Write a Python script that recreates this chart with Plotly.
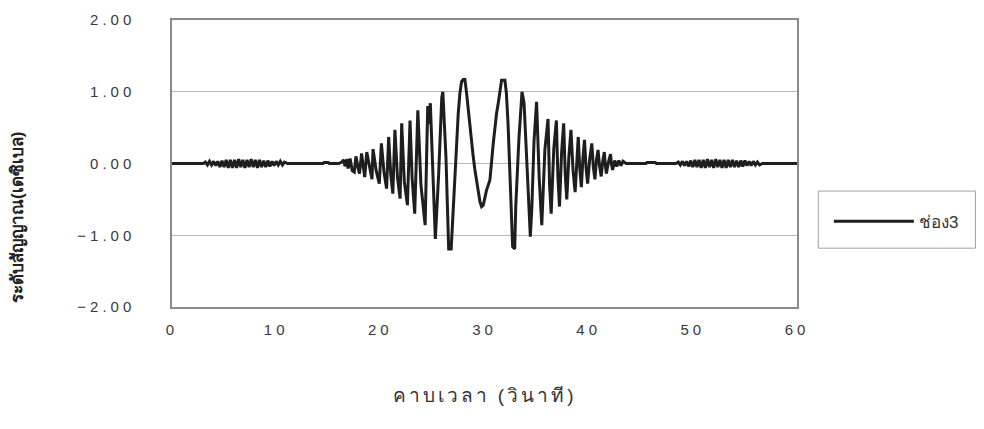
import plotly.graph_objects as go

# ---- data ----
time_s = [
    0.0, 3.0,
    3.2, 3.4, 3.6, 3.8, 4.0, 4.2, 4.4, 4.6, 4.8, 5.0, 5.2, 5.4, 5.6, 5.8, 6.0, 6.2, 6.4, 6.6, 6.8, 7.0,
    7.2, 7.4, 7.6, 7.8, 8.0, 8.2, 8.4, 8.6, 8.8, 9.0, 9.2, 9.4, 9.6, 9.8, 10.0, 10.2, 10.4, 10.6, 10.8,
    11.1, 14.5, 14.6, 15.0, 15.1, 16.0, 16.3,
    16.5, 16.6, 16.8, 16.9, 17.1, 17.3, 17.5, 17.66, 17.85, 18.0, 18.2, 18.5, 18.7, 19.0, 19.2, 19.3,
    19.6, 19.9, 20.1, 20.35, 20.6, 20.8, 21.0, 21.2, 21.4, 21.65, 21.9, 22.05, 22.3, 22.6, 22.85,
    23.05, 23.3, 23.6, 23.9, 24.3, 24.55, 24.65, 24.8, 25.28, 25.6, 25.9, 26.0, 26.3, 26.56, 26.8,
    27.0, 27.16, 27.32, 27.48, 27.64, 27.8, 27.96, 28.12, 28.28, 28.44, 28.6, 28.76, 28.92, 29.08,
    29.24, 29.4, 29.56, 29.72, 29.88, 30.2, 30.52, 30.84, 31.0, 31.16, 31.32, 31.48, 31.64, 31.96,
    32.1, 32.26, 32.5, 32.7, 32.9, 33.0, 33.3, 33.6, 33.8, 34.1, 34.4, 34.55, 34.75, 35.0, 35.25,
    35.5, 35.8, 36.1, 36.25, 36.4, 36.65, 36.9, 37.05, 37.2, 37.4, 37.6, 37.75, 37.9, 38.1, 38.3,
    38.5, 38.7, 38.85, 39.0, 39.15, 39.3, 39.45, 39.6, 39.75, 39.9, 40.1, 40.3, 40.45, 40.6, 40.75,
    40.9, 41.05, 41.2, 41.35, 41.5, 41.6, 41.7, 41.9, 42.1, 42.2, 42.3,
    42.5, 42.7, 42.9, 43.1, 43.3, 43.6, 45.5, 45.6, 46.4, 46.5, 48.4,
    48.6, 48.8, 49.0, 49.2, 49.4, 49.6, 49.8, 50.0, 50.2, 50.4, 50.6, 50.8, 51.0, 51.2, 51.4, 51.6,
    51.8, 52.0, 52.2, 52.4, 52.6, 52.8, 53.0, 53.2, 53.4, 53.6, 53.8, 54.0, 54.2, 54.4, 54.6, 54.8,
    55.0, 55.2, 55.4, 55.6, 55.8, 56.0, 56.2, 56.4, 56.7, 57.0, 60.0,
]
level_db = [
    0.0, 0.0,
    0.02, -0.02, 0.03, -0.02, 0.03, -0.03, 0.03, -0.05, 0.04, -0.05, 0.05, -0.06, 0.05, -0.06, 0.05, -0.06, 0.06, -0.05, 0.05, -0.06,
    0.05, -0.05, 0.06, -0.05, 0.05, -0.06, 0.05, -0.05, 0.04, -0.05, 0.04, -0.04, 0.03, -0.03, 0.03, -0.02, 0.03, -0.02, 0.02,
    0.0, 0.0, 0.015, 0.015, 0.0, 0.0, 0.02,
    0.05, -0.04, 0.06, -0.07, 0.07, -0.10, -0.12, 0.10, -0.05, -0.14, 0.14, -0.19, 0.16, -0.05, -0.22, 0.20,
    -0.10, -0.28, 0.28, -0.12, -0.35, 0.37, -0.15, -0.42, 0.47, -0.20, -0.49, 0.56, -0.25, -0.58, 0.60,
    -0.20, -0.70, 0.74, -0.30, -0.86, 0.80, 0.55, 0.84, -1.05, -0.14, 0.92, 1.00, 0.09, -1.19, -1.19,
    -0.60, -0.14, 0.33, 0.70, 0.98, 1.14, 1.17, 1.17, 0.98, 0.74, 0.60, 0.33, 0.09, -0.09,
    -0.23, -0.37, -0.53, -0.60, -0.58, -0.37, -0.23, 0.28, 0.51, 0.70, 0.84, 1.00, 1.16, 1.16,
    0.98, 0.56, -0.37, -1.16, -1.19, -0.60, 0.33, 1.00, 0.84, -0.14, -1.02, -0.60, 0.30, 0.86, -0.20,
    -0.86, 0.20, 0.62, -0.30, -0.70, 0.20, 0.60, -0.20, -0.60, 0.15, 0.56, -0.15, -0.50, 0.10, 0.47,
    -0.10, -0.40, 0.10, 0.37, -0.08, -0.33, 0.08, 0.33, -0.06, -0.28, 0.06, 0.28, -0.05, -0.22, 0.05,
    0.19, -0.04, -0.18, 0.03, 0.16, -0.02, -0.14, 0.02, 0.13, -0.02, -0.09,
    0.04, -0.04, 0.04, -0.03, 0.03, 0.0, 0.0, 0.015, 0.015, 0.0, 0.0,
    0.02, -0.02, 0.03, -0.03, 0.03, -0.04, 0.04, -0.05, 0.05, -0.05, 0.05, -0.06, 0.05, -0.06, 0.06, -0.05,
    0.05, -0.06, 0.06, -0.05, 0.05, -0.06, 0.05, -0.06, 0.05, -0.05, 0.05, -0.05, 0.04, -0.05, 0.04, -0.04,
    0.04, -0.03, 0.03, -0.03, 0.03, -0.02, 0.02, -0.02, 0.0, 0.0, 0.0,
]
series_name = "ช่อง3"
x_title = "คาบเวลา (วินาที)"
y_title = "ระดับสัญญาณ(เดซิเบล)"
x_ticks = [0, 10, 20, 30, 40, 50, 60]
y_ticks = [-2, -1, 0, 1, 2]

fig = go.Figure()
fig.add_trace(go.Scatter(
    x=time_s, y=level_db, mode="lines", name=series_name,
    line=dict(color="#1e1e1e", width=3),
))

tick_font = dict(family="Liberation Sans, Arial, sans-serif", size=15, color="#3a3a3a")

fig.update_layout(
    width=984, height=429,
    margin=dict(l=172, r=187, t=20, b=122),
    paper_bgcolor="white", plot_bgcolor="white",
    showlegend=True,
    legend=dict(
        x=1.051, y=0.36, xanchor="left", yanchor="top",
        bgcolor="rgba(0,0,0,0)", borderwidth=0,
        font=dict(family="Liberation Sans, Arial, sans-serif", size=17, color="#333"),
        itemwidth=80,
    ),
    shapes=[dict(
        type="rect", xref="paper", yref="paper",
        x0=1.034, x1=1.2855, y0=0.205, y1=0.404,
        line=dict(color="#a0a0a0", width=1), fillcolor="rgba(0,0,0,0)",
    )],
    annotations=[dict(
        text=y_title, xref="paper", yref="paper",
        x=-0.2464, y=0.31, xanchor="center", yanchor="middle",
        textangle=-90, showarrow=False,
        font=dict(family="Liberation Sans, Arial, sans-serif", size=17, color="#222",
                  weight="bold"),
    )],
    font=dict(family="Liberation Sans, Arial, sans-serif"),
)

fig.update_xaxes(
    range=[0, 60], tickvals=x_ticks, ticks="", showgrid=False, zeroline=False,
    showline=True, mirror=True, linecolor="#8a8a8a", linewidth=1.5,
    tickfont=tick_font, ticklabelstandoff=8,
    title=dict(text=x_title, standoff=52,
               font=dict(family="Liberation Sans, Arial, sans-serif", size=19, color="#333")),
)
fig.update_yaxes(
    range=[-2, 2], tickvals=y_ticks, tickformat=".2f", ticks="",
    showgrid=True, gridcolor="#b8b8b8", gridwidth=1,
    zeroline=True, zerolinecolor="#b8b8b8", zerolinewidth=1,
    showline=True, mirror=True, linecolor="#8a8a8a", linewidth=1.5,
    tickfont=tick_font, ticklabelstandoff=32,
)

post = """
document.querySelectorAll('.xtick text, .ytick text').forEach(function(t){t.setAttribute('letter-spacing','4px');});
document.querySelectorAll('.g-xtitle text').forEach(function(t){t.setAttribute('letter-spacing','3px');});
"""
fig.write_html("out.html", post_script=post)
